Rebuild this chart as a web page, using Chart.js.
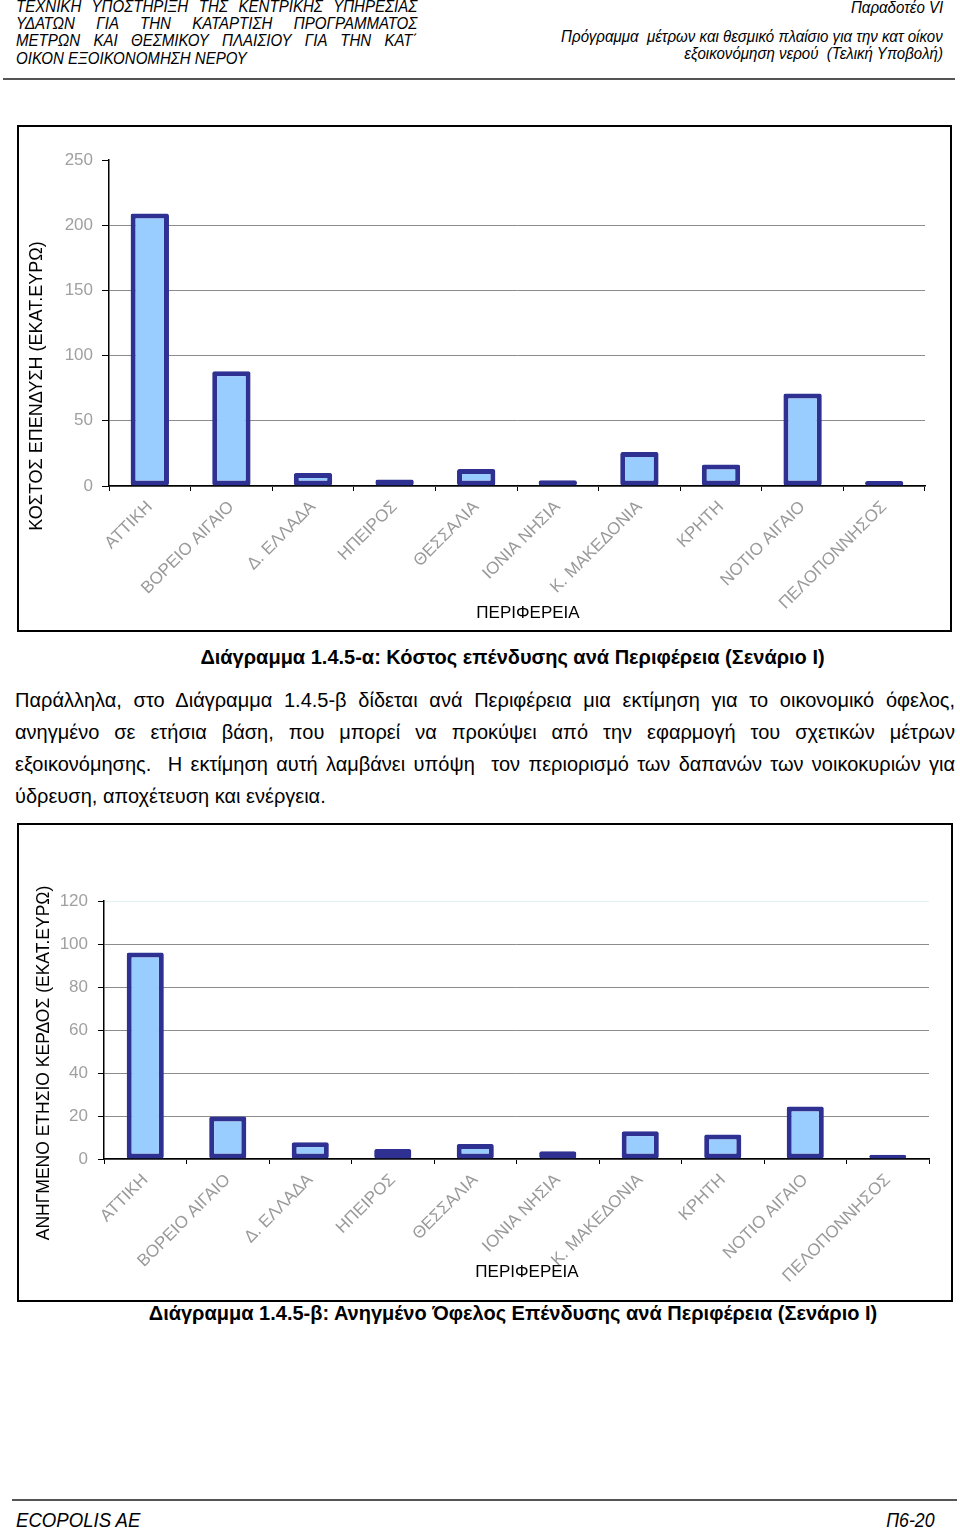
<!DOCTYPE html>
<html>
<head>
<meta charset="utf-8">
<script src="https://cdn.jsdelivr.net/npm/chart.js@4"></script>
<style>
  body { margin: 0; background: #fff; width: 960px; height: 1531px; position: relative; overflow: hidden;
         font-family: "Liberation Sans", Arial, sans-serif; color: #000; }
  .abs { position: absolute; white-space: nowrap; }
  /* no narrow face installed: squeeze an italic sans instead */
  .narrow { font-family: "Liberation Sans Narrow", "Arial Narrow", "Liberation Sans", sans-serif; font-style: italic;
            font-size: 17px; line-height: 17px; transform: scaleX(0.886); }
  .nl { transform-origin: left center; }
  .nr { transform-origin: right center; }
  .just { text-align: justify; text-align-last: justify; white-space: normal; }
  .rule { position: absolute; background: #555; height: 2px; }
  .box { position: absolute; border: 2px solid #000; box-sizing: border-box; }
  .para { font-size: 20px; line-height: 32px; }
  .cap { font-weight: bold; font-size: 20px; line-height: 24px; text-align: center; }
  canvas { position: absolute; }
</style>
</head>
<body>
<!-- header -->
<div class="abs narrow nl just" style="left:16px; top:-2px; width:453px;">ΤΕΧΝΙΚΗ ΥΠΟΣΤΗΡΙΞΗ ΤΗΣ ΚΕΝΤΡΙΚΗΣ ΥΠΗΡΕΣΙΑΣ</div>
<div class="abs narrow nl just" style="left:16px; top:15px; width:453px;">ΥΔΑΤΩΝ ΓΙΑ ΤΗΝ ΚΑΤΑΡΤΙΣΗ ΠΡΟΓΡΑΜΜΑΤΟΣ</div>
<div class="abs narrow nl just" style="left:16px; top:32px; width:453px;">ΜΕΤΡΩΝ ΚΑΙ ΘΕΣΜΙΚΟΥ ΠΛΑΙΣΙΟΥ ΓΙΑ ΤΗΝ ΚΑΤ΄</div>
<div class="abs narrow nl" style="left:16px; top:50px;">ΟΙΚΟΝ ΕΞΟΙΚΟΝΟΜΗΣΗ ΝΕΡΟΥ</div>
<div class="abs narrow nr" style="right:17px; top:-1px;">Παραδοτέο VI</div>
<div class="abs narrow nr" style="right:17px; top:28px;">Πρόγραμμα&nbsp; μέτρων και θεσμικό πλαίσιο για την κατ οίκον</div>
<div class="abs narrow nr" style="right:17px; top:45px;">εξοικονόμηση νερού&nbsp; (Τελική Υποβολή)</div>
<div class="rule" style="left:3px; width:952px; top:78px;"></div>

<!-- chart 1 -->
<div class="box" style="left:17px; top:125px; width:935px; height:507px;"></div>
<canvas id="costChart" width="930" height="503" style="left:19px; top:127px;"></canvas>
<div class="abs cap" style="left:0; width:1025px; top:645px;">Διάγραμμα 1.4.5-α: Κόστος επένδυσης ανά Περιφέρεια (Σενάριο Ι)</div>

<!-- paragraph -->
<div class="abs para just" style="left:15px; width:940px; top:684px;">Παράλληλα, στο Διάγραμμα 1.4.5-β δίδεται ανά Περιφέρεια μια εκτίμηση για το οικονομικό όφελος,</div>
<div class="abs para just" style="left:15px; width:940px; top:716px;">ανηγμένο σε ετήσια βάση, που μπορεί να προκύψει από την εφαρμογή του σχετικών μέτρων</div>
<div class="abs para just" style="left:15px; width:940px; top:748px;">εξοικονόμησης.&nbsp; Η εκτίμηση αυτή λαμβάνει υπόψη&nbsp; τον περιορισμό των δαπανών των νοικοκυριών για</div>
<div class="abs para" style="left:15px; top:780px;">ύδρευση, αποχέτευση και ενέργεια.</div>

<!-- chart 2 -->
<div class="box" style="left:17px; top:823px; width:936px; height:479px;"></div>
<canvas id="benefitChart" width="933" height="476" style="left:18px; top:825px;"></canvas>
<div class="abs cap" style="left:0; width:1026px; top:1301px;">Διάγραμμα 1.4.5-β: Ανηγμένο Όφελος Επένδυσης ανά Περιφέρεια (Σενάριο Ι)</div>

<!-- footer -->
<div class="rule" style="left:12px; width:945px; top:1499px;"></div>
<div class="abs narrow nl" style="left:16px; top:1510px; font-size:21px; line-height:20px;">ECOPOLIS AE</div>
<div class="abs narrow nr" style="right:25px; top:1510px; font-size:20px; line-height:20px;">Π6-20</div>

<script>
// data
const regions = ['ΑΤΤΙΚΗ', 'ΒΟΡΕΙΟ ΑΙΓΑΙΟ', 'Δ. ΕΛΛΑΔΑ', 'ΗΠΕΙΡΟΣ', 'ΘΕΣΣΑΛΙΑ',
  'ΙΟΝΙΑ ΝΗΣΙΑ', 'Κ. ΜΑΚΕΔΟΝΙΑ', 'ΚΡΗΤΗ', 'ΝΟΤΙΟ ΑΙΓΑΙΟ', 'ΠΕΛΟΠΟΝΝΗΣΟΣ'];
const investmentCost = [209, 88, 10, 5, 13, 4.5, 26, 16.5, 71, 3.8];
const annualBenefit = [96, 19.8, 7.8, 4.7, 7, 3.6, 12.9, 11.4, 24.4, 2];
const costTicks = [0, 50, 100, 150, 200, 250];
const benefitTicks = [0, 20, 40, 60, 80, 100, 120];

const FONT = '"Liberation Sans", Arial, sans-serif';

// draws the rotated y title and the x title where the original had them
const axisTitles = {
  id: 'axisTitles',
  afterDraw(chart, args, opts) {
    const ctx = chart.ctx;
    ctx.save();
    ctx.fillStyle = '#000';
    ctx.textAlign = 'center';
    ctx.textBaseline = 'middle';
    ctx.font = '17px ' + FONT;
    ctx.fillText(opts.xText, opts.xPos[0], opts.xPos[1]);
    ctx.font = opts.ySize + 'px ' + FONT;
    ctx.translate(opts.yPos[0], opts.yPos[1]);
    ctx.rotate(-Math.PI / 2);
    ctx.fillText(opts.yText, 0, 0);
    ctx.restore();
  }
};

function makeChart(id, values, ticks, box) {
  const top = ticks[ticks.length - 1];
  return new Chart(document.getElementById(id), {
    type: 'bar',
    data: {
      labels: regions,
      datasets: [{
        data: values,
        backgroundColor: '#99ccff',
        borderColor: '#2e3192',
        borderWidth: 5,
        borderSkipped: false,
        borderRadius: 2,
        barPercentage: box.barPct,
        categoryPercentage: 1
      }]
    },
    options: {
      responsive: false,
      animation: false,
      layout: { padding: { top: box.top, right: box.right, left: 0, bottom: 0 } },
      plugins: {
        legend: { display: false },
        tooltip: { enabled: false },
        axisTitles: box.titles
      },
      scales: {
        x: {
          afterFit: s => { s.height = box.xHeight; },
          grid: { offset: true, drawOnChartArea: false, tickLength: 5, tickColor: '#000' },
          border: { color: '#000', width: 1.5 },
          ticks: { autoSkip: false, minRotation: 45, maxRotation: 45, padding: 6,
                   color: '#9a9a9a', font: { family: FONT, size: 17 } }
        },
        y: {
          min: 0, max: top,
          afterFit: s => { s.width = box.yWidth; },
          afterBuildTicks: s => { s.ticks = ticks.map(v => ({ value: v })); },
          grid: {
            color: c => c.tick && c.tick.value === top ? box.topGrid : '#8c8c8c',
            tickLength: box.tickLen, tickColor: '#000', lineWidth: 1
          },
          border: { color: '#000', width: 1.5 },
          ticks: { padding: box.tickPad, color: '#a0a0a0', font: { family: FONT, size: 17 } }
        }
      }
    },
    plugins: [axisTitles]
  });
}

makeChart('costChart', investmentCost, costTicks, {
  top: 33, right: 24, xHeight: 144, yWidth: 90, barPct: 0.47,
  tickLen: 7, tickPad: 9, topGrid: 'rgba(0,0,0,0)',
  titles: { yText: 'ΚΟΣΤΟΣ ΕΠΕΝΔΥΣΗ (ΕΚΑΤ.ΕΥΡΩ)', yPos: [18, 259], ySize: 18,
            xText: 'ΠΕΡΙΦΕΡΕΙΑ', xPos: [509, 486] }
});

makeChart('benefitChart', annualBenefit, benefitTicks, {
  top: 76, right: 22, xHeight: 142, yWidth: 86, barPct: 0.45,
  tickLen: 6, tickPad: 10, topGrid: '#e2f2f4',
  titles: { yText: 'ΑΝΗΓΜΕΝΟ ΕΤΗΣΙΟ ΚΕΡΔΟΣ (ΕΚΑΤ.ΕΥΡΩ)', yPos: [26, 238], ySize: 17.5,
            xText: 'ΠΕΡΙΦΕΡΕΙΑ', xPos: [509, 447] }
});
</script>
</body>
</html>
